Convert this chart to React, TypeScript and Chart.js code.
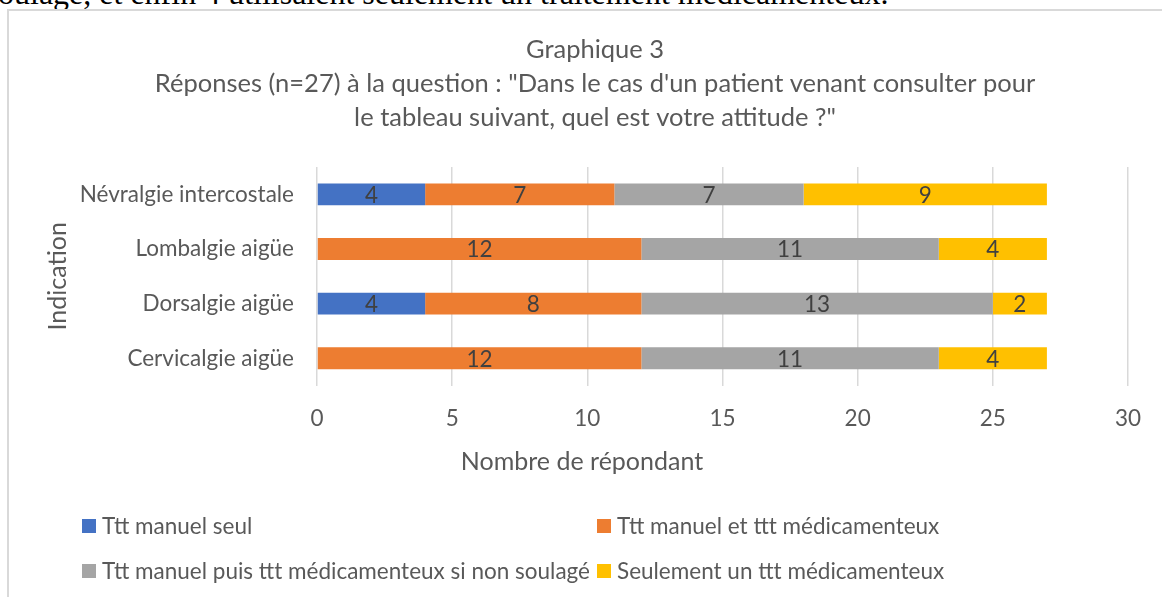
import React, { useEffect, useRef } from "react";
import { Chart, registerables } from "chart.js";

Chart.register(...registerables);

// ---- Data ----
const categories = [
  "Névralgie intercostale",
  "Lombalgie aigüe",
  "Dorsalgie aigüe",
  "Cervicalgie aigüe",
];
const seriesNames = [
  "Ttt manuel seul",
  "Ttt manuel et ttt médicamenteux",
  "Ttt manuel puis ttt médicamenteux si non soulagé",
  "Seulement un ttt médicamenteux",
];
const manuelSeul = [4, 0, 4, 0];
const manuelEtMedic = [7, 12, 8, 12];
const manuelPuisMedic = [7, 11, 13, 11];
const seulementMedic = [9, 4, 2, 4];
const xMin = 0;
const xMax = 30;
const xStep = 5;
const titleLines = [
  "Graphique 3",
  "Réponses (n=27) à la question : \"Dans le cas d'un patient venant consulter pour",
  "le tableau suivant, quel est votre attitude ?\"",
];
const xAxisTitle = "Nombre de répondant";
const yAxisTitle = "Indication";
const topText = "oulagé, et enfin 4 utilisaient seulement un traitement médicamenteux.";

// ---- Styles ----
const colors = ["#4472C4", "#ED7D31", "#A5A5A5", "#FFC000"];
const FONT = "Lato";
const FS = 22.5;
const FS_TITLE = 25.5;
const FS_AXIS = 25;
const TEXT = "#595959";
const LABEL = "#404040";

const customPlugin = {
  id: "customDraw",
  afterDatasetsDraw(chart: any) {
    const ctx = chart.ctx;
    ctx.save();
    ctx.font = `${FS}px ${FONT}`;
    ctx.fillStyle = LABEL;
    ctx.textAlign = "center";
    ctx.textBaseline = "middle";
    chart.data.datasets.forEach((ds: any, i: number) => {
      const meta = chart.getDatasetMeta(i);
      meta.data.forEach((el: any, j: number) => {
        const v = ds.data[j];
        if (!v) return;
        const p = el.getProps(["x", "base", "y"], true);
        ctx.fillText(String(v), (p.x + p.base) / 2, p.y + 1);
      });
    });
    ctx.restore();
  },
  afterDraw(chart: any) {
    const ctx = chart.ctx;
    ctx.save();
    ctx.font = `${FS_AXIS}px ${FONT}`;
    ctx.fillStyle = TEXT;
    ctx.textAlign = "center";
    ctx.textBaseline = "middle";
    ctx.fillText(xAxisTitle, 573, 451);
    // legend
    ctx.font = `${FS}px ${FONT}`;
    const cols = [73, 588];
    const rows = [515, 560];
    const sq = 14;
    ctx.textAlign = "left";
    chart.data.datasets.forEach((ds: any, i: number) => {
      const cx = cols[i % 2];
      const cy = rows[Math.floor(i / 2)];
      ctx.fillStyle = ds.backgroundColor;
      ctx.fillRect(cx, cy - sq / 2, sq, sq);
      ctx.fillStyle = TEXT;
      ctx.fillText(ds.label, cx + 20, cy + 1);
    });
    ctx.restore();
  },
};

export default function App() {
  const ref = useRef<HTMLCanvasElement | null>(null);
  useEffect(() => {
    if (!ref.current) return;
    const series = [manuelSeul, manuelEtMedic, manuelPuisMedic, seulementMedic];
    const chart = new Chart(ref.current, {
      type: "bar",
      data: {
        labels: categories,
        datasets: series.map((d, i) => ({
          label: seriesNames[i],
          data: d,
          backgroundColor: colors[i],
          borderWidth: 0,
          barPercentage: 0.4,
          categoryPercentage: 1,
        })),
      },
      options: {
        indexAxis: "y",
        animation: false,
        responsive: false,
        devicePixelRatio: 1,
        layout: { padding: { top: 0, left: 53, right: 53, bottom: 158.4 } },
        plugins: {
          legend: { display: false },
          tooltip: { enabled: false },
          title: {
            display: true,
            text: titleLines,
            color: TEXT,
            font: { family: FONT, size: FS_TITLE, weight: "normal", lineHeight: "34px" },
            padding: { top: 22, bottom: 32 },
          },
        },
        scales: {
          x: {
            stacked: true,
            min: xMin,
            max: xMax,
            ticks: {
              stepSize: xStep,
              color: TEXT,
              font: { family: FONT, size: FS },
              padding: 20,
            },
            grid: { color: "#d9d9d9", lineWidth: 1.5, drawTicks: false },
            border: { display: false },
          },
          y: {
            stacked: true,
            afterFit: (s: any) => {
              s.width = 255;
            },
            ticks: {
              color: TEXT,
              font: { family: FONT, size: FS },
              padding: 23,
            },
            grid: { display: false, drawTicks: false },
            border: { display: false },
            title: {
              display: true,
              text: yAxisTitle,
              color: TEXT,
              font: { family: FONT, size: FS_AXIS },
              padding: { top: -19, bottom: 0 },
            },
          },
        },
      },
      plugins: [customPlugin],
    } as any);
    return () => chart.destroy();
  }, []);

  return (
    <>
      <style>{`html,body{overflow:hidden;}`}</style>
      <div
        style={{
          position: "absolute",
          left: -2,
          top: -23,
          fontFamily: "'Liberation Serif', serif",
          fontSize: 32,
          lineHeight: "32px",
          whiteSpace: "nowrap",
          color: "#000",
        }}
      >
        {topText}
      </div>
      <div
        style={{
          position: "absolute",
          left: 7,
          top: 9,
          width: 1172,
          height: 600,
          border: "2px solid #d9d9d9",
          background: "#fff",
          overflow: "hidden",
        }}
      >
        <canvas ref={ref} width={1172} height={600} style={{ display: "block" }} />
      </div>
    </>
  );
}
